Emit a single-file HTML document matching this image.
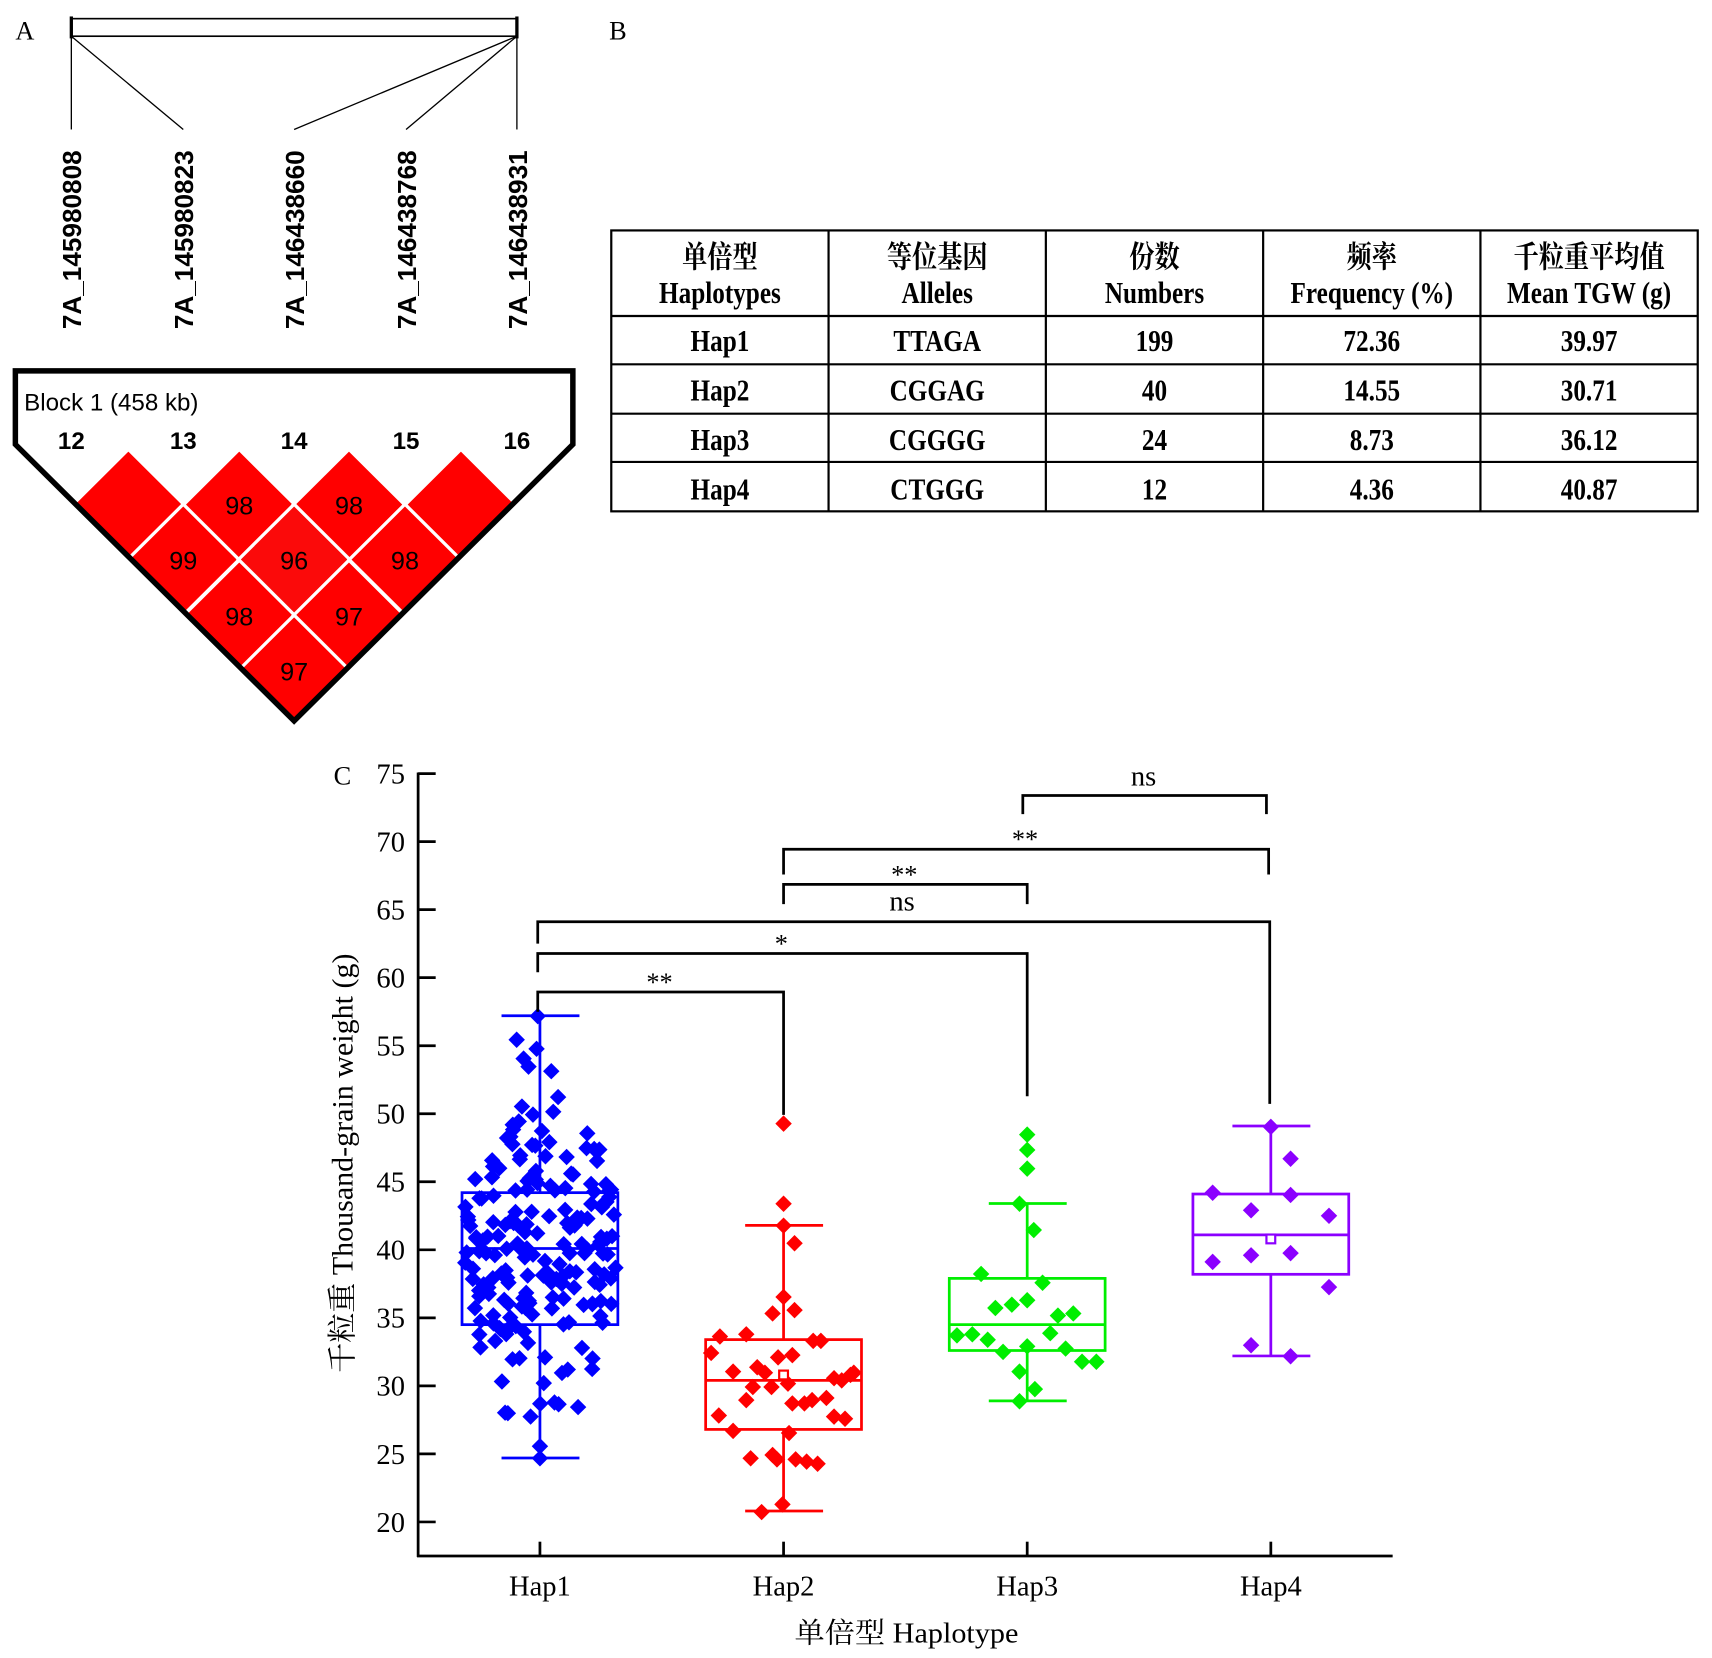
<!DOCTYPE html>
<html><head><meta charset="utf-8">
<style>
html,body{margin:0;padding:0;background:#fff;}
svg{display:block;}
.serif{font-family:"Liberation Serif","Noto Serif CJK SC","Noto Sans CJK SC",serif;}
.sans{font-family:"Liberation Sans","Noto Sans CJK SC",sans-serif;}
</style></head>
<body>
<svg id="s" width="1712" height="1658" viewBox="0 0 1560 1511" preserveAspectRatio="none" xmlns="http://www.w3.org/2000/svg">
<rect width="1560" height="1511" fill="#fff"/>
<!-- Panel A -->
<text x="14" y="36" class="serif" font-size="24">A</text>
<g stroke="#000" fill="none">
<rect x="65" y="17" width="406" height="16" stroke-width="1.5"/>
<line x1="65" y1="15" x2="65" y2="35" stroke-width="3"/>
<line x1="471" y1="15" x2="471" y2="35" stroke-width="3"/>
<g stroke-width="1.2">
<line x1="65" y1="33" x2="65" y2="118"/>
<line x1="65" y1="33" x2="167" y2="118"/>
<line x1="471" y1="33" x2="268" y2="118"/>
<line x1="471" y1="33" x2="370" y2="118"/>
<line x1="471" y1="33" x2="471" y2="118"/>
</g></g>
<g class="sans" font-size="24" font-weight="bold">
<text transform="translate(74,300) rotate(-90)" textLength="163" lengthAdjust="spacingAndGlyphs">7A_145980808</text>
<text transform="translate(176,300) rotate(-90)" textLength="163" lengthAdjust="spacingAndGlyphs">7A_145980823</text>
<text transform="translate(277,300) rotate(-90)" textLength="163" lengthAdjust="spacingAndGlyphs">7A_146438660</text>
<text transform="translate(379,300) rotate(-90)" textLength="163" lengthAdjust="spacingAndGlyphs">7A_146438768</text>
<text transform="translate(480,300) rotate(-90)" textLength="163" lengthAdjust="spacingAndGlyphs">7A_146438931</text>
</g>
<g id="ld"></g>
<polygon points="14,338 522,338 522,405 268,657 14,405" fill="none" stroke="#000" stroke-width="5" stroke-linejoin="miter"/>
<text x="22" y="374" class="sans" font-size="22">Block 1 (458 kb)</text>
<g class="sans" font-size="22" font-weight="bold" text-anchor="middle">
<text x="65" y="409">12</text><text x="167" y="409">13</text><text x="268" y="409">14</text><text x="370" y="409">15</text><text x="471" y="409">16</text>
</g>
<!-- Panel B -->
<text x="555" y="36" class="serif" font-size="24">B</text>
<g stroke="#000" stroke-width="2" fill="none">
<rect x="557" y="210" width="990" height="256"/>
<line x1="557" y1="288" x2="1547" y2="288"/>
<line x1="557" y1="332" x2="1547" y2="332"/>
<line x1="557" y1="377" x2="1547" y2="377"/>
<line x1="557" y1="421" x2="1547" y2="421"/>
<line x1="755" y1="210" x2="755" y2="466"/>
<line x1="953" y1="210" x2="953" y2="466"/>
<line x1="1151" y1="210" x2="1151" y2="466"/>
<line x1="1349" y1="210" x2="1349" y2="466"/>
</g>
<g class="serif cond" font-size="28" font-weight="bold" text-anchor="middle">
<text x="656" y="244">单倍型</text><text x="656" y="276">Haplotypes</text>
<text x="854" y="244">等位基因</text><text x="854" y="276">Alleles</text>
<text x="1052" y="244">份数</text><text x="1052" y="276">Numbers</text>
<text x="1250" y="244">频率</text><text x="1250" y="276">Frequency (%)</text>
<text x="1448" y="244">千粒重平均值</text><text x="1448" y="276">Mean TGW (g)</text>
<text x="656" y="320">Hap1</text><text x="854" y="320">TTAGA</text><text x="1052" y="320">199</text><text x="1250" y="320">72.36</text><text x="1448" y="320">39.97</text>
<text x="656" y="365">Hap2</text><text x="854" y="365">CGGAG</text><text x="1052" y="365">40</text><text x="1250" y="365">14.55</text><text x="1448" y="365">30.71</text>
<text x="656" y="410">Hap3</text><text x="854" y="410">CGGGG</text><text x="1052" y="410">24</text><text x="1250" y="410">8.73</text><text x="1448" y="410">36.12</text>
<text x="656" y="455">Hap4</text><text x="854" y="455">CTGGG</text><text x="1052" y="455">12</text><text x="1250" y="455">4.36</text><text x="1448" y="455">40.87</text>
</g>
<!-- Panel C -->
<text x="304" y="715" class="serif" font-size="24">C</text>
<g stroke="#000" stroke-width="2.5" fill="none">
<line x1="381" y1="704" x2="381" y2="1419"/>
<line x1="380" y1="1418" x2="1269" y2="1418"/>
</g>
<g id="yt" class="serif" font-size="26" text-anchor="end"></g>
<g class="serif" font-size="26" text-anchor="middle">
<text x="492" y="1454">Hap1</text><text x="714" y="1454">Hap2</text><text x="936" y="1454">Hap3</text><text x="1158" y="1454">Hap4</text>
<text x="826" y="1497" textLength="204" lengthAdjust="spacingAndGlyphs">单倍型 Haplotype</text>
<text transform="translate(321,1060) rotate(-90)" textLength="382" lengthAdjust="spacingAndGlyphs" font-size="27">千粒重 Thousand-grain weight (g)</text>
</g>
<g id="pts"></g>
<g id="boxes" fill="none" stroke-width="2.5"></g>
<!-- brackets -->
<g stroke="#000" stroke-width="2.5" fill="none">
<polyline points="490,922 490,904 714,904 714,1016"/>
<polyline points="490,886 490,869 936,869 936,999"/>
<polyline points="490,860 490,840 1157,840 1157,1006"/>
<polyline points="714,824 714,806 936,806 936,824"/>
<polyline points="714,797 714,774 1156,774 1156,797"/>
<polyline points="932,742 932,725 1154,725 1154,742"/>
</g>
<g class="serif" font-size="24" text-anchor="middle">
<text x="601" y="903">**</text>
<text x="712" y="868">*</text>
<text x="824" y="805">**</text>
<text x="934" y="773">**</text>
</g>
<g class="serif" font-size="26" text-anchor="middle">
<text x="822" y="830">ns</text>
<text x="1042" y="716">ns</text>
</g>
</svg>
<script>
(function(){
var NS="http://www.w3.org/2000/svg";
function el(p,t,a){var e=document.createElementNS(NS,t);for(var k in a)e.setAttribute(k,a[k]);p.appendChild(e);return e;}
// condense table text
try{document.querySelectorAll('.cond text').forEach(function(t){var L=t.getComputedTextLength();if(L>0){t.setAttribute('textLength',(L*0.82).toFixed(1));t.setAttribute('lengthAdjust','spacingAndGlyphs');}});}catch(e){}
// LD diamonds
var ld=document.getElementById('ld');
var cells=[[117,460,""],[218,460,"98"],[318,460,"98"],[420,460,""],[167,510,"99"],[268,510,"96"],[369,510,"98"],[218,561,"98"],[318,561,"97"],[268,611,"97"]];
cells.forEach(function(c){
 var x=c[0],y=c[1],w=50.75,h=50.5;
 el(ld,'polygon',{points:(x)+','+(y-h)+' '+(x+w)+','+y+' '+x+','+(y+h)+' '+(x-w)+','+y,fill:c[2]=="96"?"#fb0a0a":"#ff0000",stroke:"#fff","stroke-width":3});
 if(c[2]){var t=el(ld,'text',{x:x,y:y+9,'text-anchor':'middle','font-size':23,'font-family':'Liberation Sans, sans-serif'});t.textContent=c[2];}
});
// y ticks
var yt=document.getElementById('yt');
function Y(v){return 1387-(v-20)*12.4;}
for(var v=20;v<=75;v+=5){
 var y=Y(v);
 el(yt,'line',{x1:381,y1:y,x2:397,y2:y,stroke:'#000','stroke-width':2.5});
 var t=el(yt,'text',{x:369,y:y+9});t.textContent=v;
}
[492,714,936,1158].forEach(function(x){el(yt,'line',{x1:x,y1:1418,x2:x,y2:1405,stroke:'#000','stroke-width':2.5});});
var pts=document.getElementById('pts');
function dia(x,y,c){var r=7.5;el(pts,'polygon',{points:x+','+(y-r)+' '+(x+r)+','+y+' '+x+','+(y+r)+' '+(x-r)+','+y,fill:c});}
var seed=12345;function rnd(){seed=(seed*16807)%2147483647;return seed/2147483647;}
function gauss(){return Math.sqrt(-2*Math.log(rnd()+1e-9))*Math.cos(2*Math.PI*rnd());}
var blue="#0000ff";
dia(490,926,blue);dia(492,1329,blue);dia(492,1318,blue);
for(var i=0;i<196;i++){
 var v=40+6*gauss(); if(v<26)v=26+rnd()*3; if(v>56)v=53+rnd()*3;
 var w=66*Math.exp(-Math.pow((v-40)/9.5,2)/2)+6;
 var x=492+(rnd()*2-1)*w;
 dia(x,Y(v),blue);
}
var red="#ff0000",green="#00ee00",purple="#8b00ff";
[[714,1024],[714,1097],[714,1117],[724,1133],[714,1182],[724,1194],[704,1197],[656,1218],[680,1216],[648,1233],[741,1222],[748,1222],[722,1235],[668,1250],[709,1237],[690,1246],[697,1251],[686,1264],[703,1264],[718,1261],[760,1256],[775,1253],[778,1251],[767,1258],[753,1274],[740,1276],[733,1279],[722,1279],[655,1290],[680,1276],[770,1293],[760,1291],[668,1304],[719,1306],[684,1329],[704,1326],[708,1330],[725,1330],[735,1332],[745,1334],[713,1371],[694,1378]].forEach(function(p){dia(p[0],p[1],red);});
[[936,1034],[936,1048],[936,1065],[929,1097],[942,1121],[894,1161],[950,1169],[936,1185],[922,1189],[907,1192],[964,1199],[978,1197],[872,1217],[886,1216],[900,1221],[957,1215],[936,1227],[914,1232],[971,1229],[986,1241],[999,1241],[929,1250],[943,1266],[929,1277]].forEach(function(p){dia(p[0],p[1],green);});
[[1158,1027],[1176,1056],[1105,1087],[1176,1089],[1140,1103],[1211,1108],[1105,1150],[1140,1144],[1176,1142],[1211,1173],[1140,1226],[1176,1236]].forEach(function(p){dia(p[0],p[1],purple);});
var bx=document.getElementById('boxes');
function box(cx,c,lo,q1,md,q3,hi,mean){
 var g=el(bx,'g',{stroke:c});
 el(g,'line',{x1:cx,y1:Y(hi),x2:cx,y2:Y(q3)});
 el(g,'line',{x1:cx,y1:Y(q1),x2:cx,y2:Y(lo)});
 el(g,'line',{x1:cx-35,y1:Y(hi),x2:cx+36,y2:Y(hi)});
 el(g,'line',{x1:cx-35,y1:Y(lo),x2:cx+36,y2:Y(lo)});
 el(g,'rect',{x:cx-71,y:Y(q3),width:142,height:Y(q1)-Y(q3)});
 el(g,'line',{x1:cx-71,y1:Y(md),x2:cx+71,y2:Y(md)});
 if(mean){el(g,'rect',{x:cx-4,y:Y(mean)-4,width:8,height:8,fill:'#fff','stroke-width':2});}
}
box(492,blue,24.7,34.5,40.1,44.2,57.2,0);
box(714,red,20.8,26.8,30.4,33.4,41.8,30.8);
box(936,green,28.9,32.6,34.5,37.9,43.4,0);
box(1158,purple,32.2,38.2,41.1,44.1,49.1,40.8);
})();
</script>
</body></html>
